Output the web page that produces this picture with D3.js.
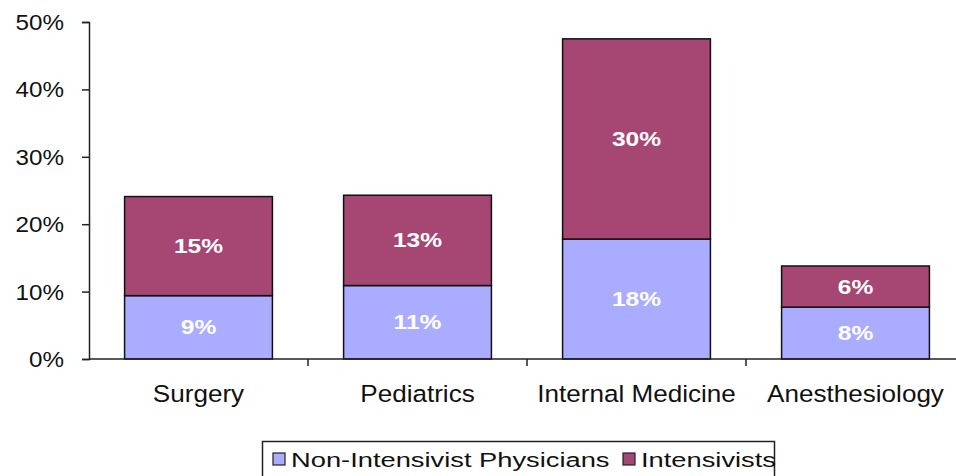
<!DOCTYPE html>
<html>
<head>
<meta charset="utf-8">
<script src="https://cdn.jsdelivr.net/npm/d3@7"></script>
<style>
  body { margin: 0; background: #fff; }
  svg { display: block; font-family: "Liberation Sans", Arial, sans-serif; }
</style>
</head>
<body>
<svg></svg>
<script>
const width = 956;
const height = 476;

const categories = ['Surgery', 'Pediatrics', 'Internal Medicine', 'Anesthesiology'];
const seriesNames = ['Non-Intensivist Physicians', 'Intensivists'];
const nonIntensivist = [9.4, 10.9, 17.8, 7.7];
const intensivists = [14.7, 13.4, 29.7, 6.1];
const yTicks = [0, 10, 20, 30, 40, 50];
const colors = ['#a9acff', '#a64672'];

const svg = d3.select('svg')
              .attr('width', width)
              .attr('height', height);

const margin = { left: 89, top: 22, right: -9, bottom: 117 };

const x = d3.scaleBand()
            .domain(categories)
            .range([margin.left, width - margin.right])
            .paddingInner(0.325)
            .paddingOuter(0.1625);

const y = d3.scaleLinear()
            .domain([0, 50])
            .range([height - margin.bottom, margin.top]);

// the original text looks stretched sideways, so text goes in a g with scaleX
const wideText = (parent, px, py, sx) =>
  parent.append('g')
        .attr('transform', `translate(${px},${py}) scale(${sx},1)`)
        .append('text');

// stack the two series per category
const rows = categories.map((c, i) => ({ cat: c, a: nonIntensivist[i], b: intensivists[i] }));
const stacked = d3.stack().keys(['a', 'b'])(rows);

const groups = svg.selectAll('g.series')
                  .data(stacked)
                  .enter()
                  .append('g')
                    .attr('class', 'series')
                    .attr('fill', (d, i) => colors[i]);

groups.selectAll('rect')
      .data(d => d)
      .enter()
      .append('rect')
        .attr('x', d => x(d.data.cat))
        .attr('y', d => y(d[1]))
        .attr('width', x.bandwidth())
        .attr('height', d => y(d[0]) - y(d[1]))
        .attr('stroke', '#111')
        .attr('stroke-width', 1.5);

// value labels, white bold in the middle of each segment
stacked.forEach(layer => {
  layer.forEach(d => {
    wideText(svg, x(d.data.cat) + x.bandwidth() / 2, (y(d[0]) + y(d[1])) / 2 + 7, 1.17)
      .attr('text-anchor', 'middle')
      .attr('fill', '#fff')
      .attr('font-weight', 'bold')
      .attr('font-size', 21)
      .text(Math.round(d[1] - d[0]) + '%');
  });
});

// y axis (labels drawn separately so they can be stretched)
const yAxis = svg.append('g')
                 .attr('transform', `translate(${margin.left},0)`)
                 .call(d3.axisLeft(y).tickValues(yTicks).tickSize(7).tickFormat(''));
yAxis.select('.domain').attr('stroke', '#222').attr('stroke-width', 1.5);
yAxis.selectAll('.tick line').attr('stroke', '#222').attr('stroke-width', 1.5);

yTicks.forEach(t => {
  wideText(svg, 64, y(t) + 8, 1.1)
    .attr('text-anchor', 'end')
    .attr('font-size', 22)
    .attr('fill', '#111')
    .text(t + '%');
});

// x axis: baseline plus ticks between categories
const x0 = height - margin.bottom;
svg.append('line')
   .attr('x1', margin.left).attr('x2', width)
   .attr('y1', x0).attr('y2', x0)
   .attr('stroke', '#222').attr('stroke-width', 1.5);

const gap = (x.step() - x.bandwidth()) / 2;
svg.selectAll('line.sep')
   .data(categories.slice(1))
   .enter()
   .append('line')
     .attr('class', 'sep')
     .attr('x1', d => x(d) - gap)
     .attr('x2', d => x(d) - gap)
     .attr('y1', x0).attr('y2', x0 + 7)
     .attr('stroke', '#222').attr('stroke-width', 1.5);

categories.forEach(c => {
  wideText(svg, x(c) + x.bandwidth() / 2, 402, 1.11)
    .attr('text-anchor', 'middle')
    .attr('font-size', 23.5)
    .attr('fill', '#111')
    .text(c);
});

// legend
const legend = svg.append('g');
legend.append('rect')
      .attr('x', 262.5).attr('y', 441.5)
      .attr('width', 512).attr('height', 40)
      .attr('fill', '#fff').attr('stroke', '#222').attr('stroke-width', 1.5);

const legendItems = [
  { name: seriesNames[0], color: colors[0], x: 273 },
  { name: seriesNames[1], color: colors[1], x: 623 },
];
legendItems.forEach(item => {
  legend.append('rect')
        .attr('x', item.x).attr('y', 453)
        .attr('width', 12).attr('height', 12)
        .attr('fill', item.color).attr('stroke', '#222').attr('stroke-width', 1.2);
  wideText(legend, item.x + 18, 467, 1.3)
    .attr('font-size', 21)
    .attr('fill', '#111')
    .text(item.name);
});
</script>
</body>
</html>
